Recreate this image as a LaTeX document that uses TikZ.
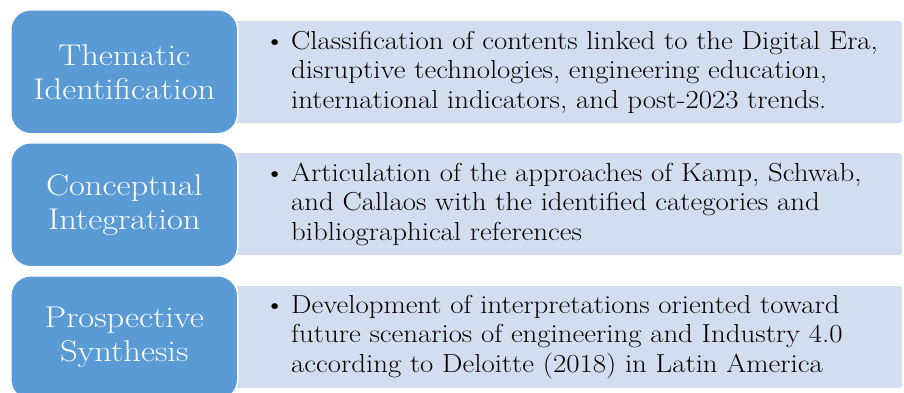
\documentclass[tikz,border=0pt]{standalone}
\usepackage{fontspec}
\usepackage{xcolor}
\usepackage{tikz}
\usetikzlibrary{positioning}

\newfontfamily\stagefont{Latin Modern Roman}[FakeStretch=1.15]
\newfontfamily\detailfont{Latin Modern Roman}[FakeStretch=1.11]

\definecolor{stageblue}{RGB}{91,155,213}
\definecolor{detailblue}{RGB}{210,222,239}

\tikzset{
  stage/.style={rectangle, rounded corners=20pt, draw=white, line width=1.5pt, fill=stageblue, minimum width=227pt, minimum height=124pt, anchor=north west, align=center, text=white, font=\stagefont\fontsize{30}{34}\selectfont},
  detail/.style={rectangle, rounded corners=3pt, fill=detailblue, minimum width=668pt, minimum height=102pt, anchor=north west},
  detailtext/.style={anchor=west, align=left, inner sep=0pt, font=\detailfont\fontsize{26}{29.5}\selectfont}
}

\begin{document}
\begin{tikzpicture}[x=1pt,y=-1pt]

\useasboundingbox (0,0) rectangle (904,392);
\clip (0,0) rectangle (904,392);

% first row
\node at (234,21) [detail] (d0) {};
\node at (291,72) [detailtext] (t0) {\llap{\textbullet\hspace{6pt}}Classification of contents linked to the Digital Era,\\ disruptive technologies, engineering education,\\ international indicators, and post-2023 trends.};
\node at (10,9) [stage] (s0) {Thematic\\ Identification};

% second row
\node at (234,153) [detail] (d1) {};
\node at (291,204) [detailtext] (t1) {\llap{\textbullet\hspace{6pt}}Articulation of the approaches of Kamp, Schwab,\\ and Callaos with the identified categories and\\ bibliographical references};
\node at (10,142) [stage] (s1) {Conceptual\\ Integration};

% third row
\node at (234,286) [detail] (d2) {};
\node at (291,337) [detailtext] (t2) {\llap{\textbullet\hspace{6pt}}Development of interpretations oriented toward\\ future scenarios of engineering and Industry 4.0\\ according to Deloitte (2018) in Latin America};
\node at (10,275) [stage] (s2) {Prospective\\ Synthesis};

\end{tikzpicture}
\end{document}
